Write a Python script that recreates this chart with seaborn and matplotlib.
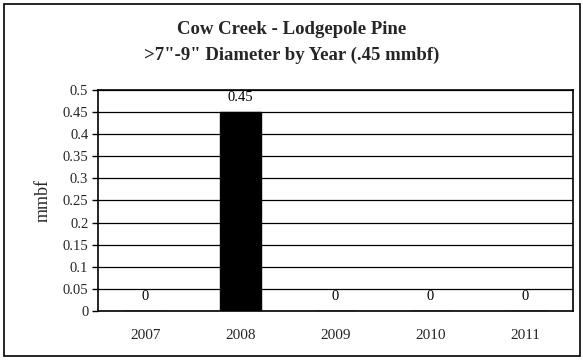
import matplotlib
matplotlib.use("Agg")
import matplotlib.pyplot as plt
import seaborn as sns
import pandas as pd
from matplotlib.patches import Rectangle

years = ["2007", "2008", "2009", "2010", "2011"]
values = [0, 0.45, 0, 0, 0]
yticks = [0, 0.05, 0.1, 0.15, 0.2, 0.25, 0.3, 0.35, 0.4, 0.45, 0.5]
ytick_labels = ["0", "0.05", "0.1", "0.15", "0.2", "0.25", "0.3", "0.35", "0.4", "0.45", "0.5"]
title1 = "Cow Creek - Lodgepole Pine"
title2 = '>7"-9" Diameter by Year (.45 mmbf)'

sns.set_theme(style="white")
plt.rcParams['font.family'] = ['Liberation Serif', 'DejaVu Serif']

df = pd.DataFrame({"year": years, "mmbf": values})

fig = plt.figure(figsize=(5.83, 3.62), dpi=100)
W, H = 583, 362
ax = fig.add_axes([98 / W, 1 - 311 / H, (573 - 98) / W, (311 - 90) / H])

sns.barplot(data=df, x="year", y="mmbf", color="black", edgecolor="black",
            width=0.43, saturation=1, ax=ax, zorder=3)

ax.set_xlim(-0.5, len(years) - 0.5)
ax.set_ylim(0, 0.5)
ax.set_yticks(yticks)
ax.set_yticklabels(ytick_labels, fontsize=10.5)
ax.yaxis.grid(True, color="black", linewidth=0.9, zorder=0)
ax.set_axisbelow(True)

ax.set_xticks(range(len(years)))
ax.set_xticklabels(years, fontsize=11)
ax.set_xticks([i - 0.5 for i in range(len(years) + 1)], minor=True)
ax.tick_params(axis="x", which="major", length=0, pad=13)
ax.tick_params(axis="x", which="minor", length=4, width=1, color="black", direction="out")
ax.tick_params(axis="y", which="major", length=4, width=1, color="black", direction="out", left=True, pad=3)
ax.set_xlabel("")
ax.set_ylabel("mmbf", fontsize=13, labelpad=8)
for s in ax.spines.values():
    s.set_color("black")
    s.set_linewidth(1.2)

for i, v in enumerate(values):
    ax.annotate(f"{v:g}", (i, v), xytext=(0, 5.5), textcoords="offset points",
                ha="center", va="bottom", fontsize=10.5, color="black")

fig.text(0.5, 1 - 30 / H, title1, ha="center", va="center", fontsize=13.5, fontweight="bold")
fig.text(0.5, 1 - 55 / H, title2, ha="center", va="center", fontsize=13.5, fontweight="bold")

fig.patches.append(Rectangle((4 / W, 1 - 356 / H), (580 - 4) / W, (356 - 4) / H,
                             transform=fig.transFigure, fill=False, edgecolor="black",
                             linewidth=1.2, zorder=0))

fig.savefig("out.png", dpi=100)
